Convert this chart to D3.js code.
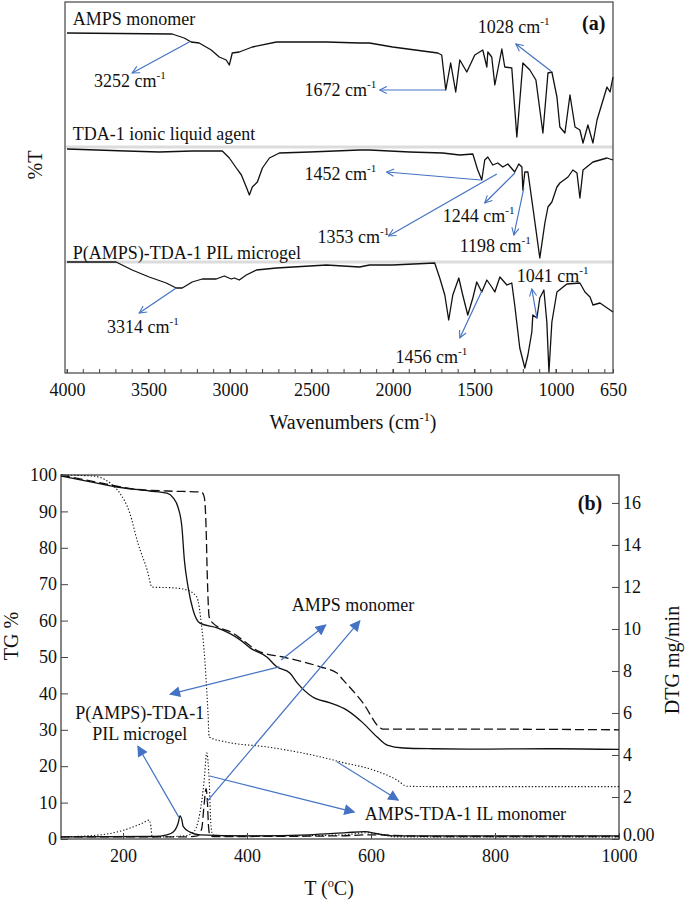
<!DOCTYPE html>
<html><head><meta charset="utf-8">
<script src="https://cdn.jsdelivr.net/npm/d3@7"></script>
<style>
body{margin:0;background:#fff}
svg, text{font-family:"Liberation Serif","Times New Roman",serif;fill:#111}
</style>
</head><body>
<svg id="c" width="685" height="900"></svg>
<script>
// ---------------- DATA: panel (a) FTIR (stacked transmittance, a.u.) ----------------
const ampsWn = [4000,3355,3281,3238,3189,3115,3066,3023,3004,2986,2943,2863,2715,2408,2205,2144,2002,1725,1701,1676,1646,1615,1590,1547,1498,1449,1424,1418,1394,1375,1332,1314,1271,1240,1203,1160,1123,1080,1049,1025,994,976,945,914,883,853,834,804,773,748,687,668,650];
const ampsT  = [340,339,335,331,330,323,316,313,308,320,321,326,331,331,330,330,326,320,318,283,310,281,313,301,318,323,306,321,316,288,324,306,305,236,310,303,293,240,300,301,276,246,240,278,246,243,230,248,230,253,286,281,296];
const tdaWn  = [4000,3637,3434,3232,3047,3004,2961,2930,2900,2881,2863,2832,2801,2758,2697,2512,2205,2144,1898,1695,1590,1510,1480,1455,1437,1418,1388,1357,1326,1295,1253,1228,1209,1203,1191,1172,1142,1099,1068,1049,1025,994,976,926,896,871,853,834,773,687,650];
const tdaT   = [224,222,221,222,222,215,205,198,186,178,186,191,205,215,220,221,223,223,221,220,218,219,203,193,213,216,208,210,206,209,201,209,206,183,201,201,166,115,150,166,171,186,190,196,203,200,175,203,211,215,213];
const pilWn  = [4000,3699,3600,3496,3391,3330,3293,3232,3170,3084,3035,2992,2973,2943,2900,2838,2715,2408,2205,2144,2002,1744,1713,1682,1658,1633,1596,1572,1541,1510,1486,1455,1424,1394,1375,1344,1301,1271,1253,1222,1191,1172,1148,1142,1117,1099,1074,1056,1043,1025,994,933,853,822,791,773,730,650];
const pilT   = [111,111,103,96,90,85,85,91,94,94,97,94,95,93,98,103,105,108,106,108,108,110,95,78,53,78,95,78,58,75,91,81,93,86,81,96,88,90,68,25,5,18,41,58,55,75,83,51,1,51,81,89,90,81,76,68,70,61];
const spectraNames = ["AMPS monomer","TDA-1 ionic liquid agent","P(AMPS)-TDA-1 PIL microgel"];
const spectraNameLevel = [348,233,114];
const separatorLevels = [226,111];
const wnTickLabels = [4000,3500,3000,2500,2000,1500,1000,650];
const wnMinorTicks = d3.range(4000,650,-100);
// peak annotations: label, text anchor (wn, T), arrow from (wn,T) to (wn,T)
const peakLabels = ["3252","1672","1028","1452","1353","1244","1198","3314","1456","1041"];
const peakTextWn = [3834,2543,1480,2543,2463,1695,1590,3754,1984,1240];
const peakTextT  = [286,277,340,193,130,151,121,40,10,91];
const peakFromWn = [3250,1676,1031,1461,1363,1252,1197,3330,1455,1117];
const peakFromT  = [331,283,302,193,199,200,185,85,82,55];
const peakToWn   = [3600,2082,1246,2039,2027,1437,1258,3557,1590,1148];
const peakToT    = [300,283,329,201,137,170,138,60,35,84];

// ---------------- DATA: panel (b) TG / DTG ----------------
const tgSolidT  = [100,152,190,243,271,281,289,295,299,305,313,324,352,389,405,432,448,469,481,506,534,561,587,610,626,652,700,776,900,1000];
const tgSolid   = [99.7,98,96.7,95.6,95,93.7,91,85.7,76.6,69.2,62.9,59.3,58,54.7,52.5,50,47.3,45.6,42.9,39,37.4,35.4,31.9,28,25.8,25,24.8,24.7,24.8,24.6];
const tgDashT   = [100,164,216,271,327,331,334,336,339,345,377,421,458,518,545,555,587,615,619,700,776,900,1000];
const tgDash    = [100,97.8,96.2,95.6,95.3,94,85.7,72,61,59.3,56.6,51.4,50,47.3,45.6,43.7,37.4,30.5,30.2,30.2,30.2,30.1,30];
const tgDotT    = [100,152,179,195,211,224,239,247,281,303,319,327,332,335,337,339,368,432,539,550,603,642,658,700,800,1000];
const tgDot     = [100,99.7,97.8,95,89.5,81.3,73.9,69.2,69,68.4,66.5,58.2,49.2,41,35,28,26.6,25.3,21.7,21.2,19,16.2,14.5,14.4,14.4,14.4];
const dtgDotT   = [100,164,190,216,232,242,245,247,260,300,313,324,331,335,339,342,345,360,450,560,590,610,640,700,1000];
const dtgDot    = [0.1,0.2,0.33,0.57,0.76,0.9,0.6,0.1,0.1,0.15,0.3,1.24,2.8,4.1,2.8,0.6,0.2,0.15,0.15,0.2,0.3,0.25,0.1,0.1,0.1];
const dtgSolidT = [100,250,271,281,289,292,295,297,308,324,400,500,560,590,610,640,1000];
const dtgSolid  = [0.1,0.12,0.2,0.33,0.76,1.1,0.9,0.6,0.33,0.2,0.15,0.2,0.3,0.35,0.25,0.15,0.15];
const dtgDashT  = [100,300,320,327,331,334,336,338,340,345,400,550,600,700,1000];
const dtgDash   = [0.1,0.1,0.15,0.5,1.7,2.4,1.85,0.57,0.2,0.12,0.12,0.15,0.2,0.12,0.12];
const tempTicks = [200,400,600,800,1000];
const tgTicks = d3.range(0,101,10);
const dtgTicks = d3.range(0,17,2);
// annotations (data coords: T, TG%)
const bLabels   = ["AMPS monomer","P(AMPS)-TDA-1","PIL microgel","AMPS-TDA-1 IL monomer"];
const bLabelT   = [571,227,227,590];
const bLabelTG  = [62.6,33,27.2,5.2];
const bArrowFromT  = [455,452,335,290,340,545];
const bArrowFromTG = [49.2,47.3,10.2,6,17.3,21.2];
const bArrowToT    = [527,276,582,224,573,644];
const bArrowToTG   = [58.8,39.8,59.9,25.5,7.4,10.7];

// ---------------- DRAW ----------------
const svg = d3.select("#c").attr("font-family","Liberation Serif");
const blue = "#4472C4";
const FS = 18;
const defs = svg.append("defs");
defs.append("marker").attr("id","openArrow").attr("viewBox","0 0 10 10")
  .attr("refX",9).attr("refY",5).attr("markerWidth",9).attr("markerHeight",9)
  .attr("markerUnits","userSpaceOnUse").attr("orient","auto")
  .append("path").attr("d","M1,1 L9,5 L1,9").attr("fill","none").attr("stroke",blue).attr("stroke-width",1.2);
defs.append("marker").attr("id","fillArrow").attr("viewBox","0 0 10 10")
  .attr("refX",9).attr("refY",5).attr("markerWidth",12).attr("markerHeight",11)
  .attr("markerUnits","userSpaceOnUse").attr("orient","auto")
  .append("path").attr("d","M0,0 L10,5 L0,10 Z").attr("fill",blue);

function supText(sel, base, sup, after, fs){
  sel.append("tspan").text(base);
  sel.append("tspan").attr("dy",-fs*0.42).attr("font-size",fs*0.62).text(sup);
  if(after) sel.append("tspan").attr("dy",fs*0.42).text(after);
}

// ===== Panel (a)
const xA = d3.scaleLinear().domain([4000,650]).range([67,613]);
const yA = d3.scaleLinear().domain([0,371]).range([373,2]);
const gA = svg.append("g");

separatorLevels.forEach(v=>{
  gA.append("line").attr("x1",xA(4000)-2).attr("x2",xA(650)).attr("y1",yA(v)).attr("y2",yA(v))
    .attr("stroke","#dcdcdc").attr("stroke-width",3);
});

gA.append("rect").attr("x",xA(4000)-2).attr("y",yA(371)).attr("width",xA(650)-xA(4000)+2)
  .attr("height",yA(0)-yA(371)).attr("fill","none").attr("stroke","#444").attr("stroke-width",1.2);

const lineA = d3.line().x(d=>xA(d[0])).y(d=>yA(d[1]));
[[ampsWn,ampsT],[tdaWn,tdaT],[pilWn,pilT]].forEach(([w,t])=>{
  gA.append("path").datum(d3.zip(w,t)).attr("d",lineA).attr("fill","none")
    .attr("stroke","#111").attr("stroke-width",1.3).attr("stroke-linejoin","round");
});

// axis
gA.selectAll(".minor").data(wnMinorTicks).join("line")
  .attr("x1",d=>xA(d)).attr("x2",d=>xA(d)).attr("y1",yA(0)).attr("y2",yA(0)-4)
  .attr("stroke","#444").attr("stroke-width",1);
const axA = gA.append("g").attr("transform",`translate(0,${yA(0)})`)
  .call(d3.axisBottom(xA).tickValues(wnTickLabels).tickSize(-4).tickPadding(10).tickFormat(d3.format("d")));
axA.attr("font-family","Liberation Serif");
axA.select(".domain").remove();
axA.selectAll("text").attr("font-size",FS).attr("fill","#111");
axA.selectAll("line").attr("stroke","#444");

gA.append("text").attr("x",353).attr("y",429).attr("text-anchor","middle").attr("font-size",20)
  .call(s=>supText(s,"Wavenumbers (cm","-1",")",20));
gA.append("text").attr("transform","translate(42,165) rotate(-90)").attr("text-anchor","middle")
  .attr("font-size",20).text("%T");

spectraNames.forEach((n,i)=>{
  gA.append("text").attr("x",xA(3965)).attr("y",yA(spectraNameLevel[i])).attr("font-size",FS).text(n);
});
gA.append("text").attr("x",xA(697)).attr("y",yA(343)).attr("text-anchor","end")
  .attr("font-size",20).attr("font-weight","bold").text("(a)");

peakLabels.forEach((p,i)=>{
  gA.append("line").attr("x1",xA(peakFromWn[i])).attr("y1",yA(peakFromT[i]))
    .attr("x2",xA(peakToWn[i])).attr("y2",yA(peakToT[i]))
    .attr("stroke",blue).attr("stroke-width",1.2).attr("marker-end","url(#openArrow)");
  gA.append("text").attr("x",xA(peakTextWn[i])).attr("y",yA(peakTextT[i])).attr("font-size",FS)
    .call(s=>supText(s,p+" cm","-1",null,FS));
});

// ===== Panel (b)
const xB = d3.scaleLinear().domain([100,1000]).range([61,619]);
const yL = d3.scaleLinear().domain([0,100]).range([839,475]);
const yR = d3.scaleLinear().domain([0,17.33]).range([839,475]);
const gB = svg.append("g");

gB.append("rect").attr("x",xB(100)).attr("y",yL(100)).attr("width",xB(1000)-xB(100))
  .attr("height",yL(0)-yL(100)).attr("fill","none").attr("stroke","#444").attr("stroke-width",1.3);

const styles = {solid:null, dash:"9,4", dot:"1.3,2"};
const lineL = d3.line().x(d=>xB(d[0])).y(d=>yL(d[1])).curve(d3.curveMonotoneX);
const lineR = d3.line().x(d=>xB(d[0])).y(d=>yR(d[1])).curve(d3.curveMonotoneX);
[[tgSolidT,tgSolid,"solid"],[tgDashT,tgDash,"dash"],[tgDotT,tgDot,"dot"]].forEach(([t,v,s])=>{
  gB.append("path").datum(d3.zip(t,v)).attr("d",lineL).attr("fill","none")
    .attr("stroke","#111").attr("stroke-width",s==="dot"?1.1:1.3).attr("stroke-dasharray",styles[s]);
});
[[dtgSolidT,dtgSolid,"solid"],[dtgDashT,dtgDash,"dash"],[dtgDotT,dtgDot,"dot"]].forEach(([t,v,s])=>{
  gB.append("path").datum(d3.zip(t,v)).attr("d",lineR).attr("fill","none")
    .attr("stroke","#111").attr("stroke-width",s==="dot"?1.1:1.3).attr("stroke-dasharray",styles[s]);
});

function styleAxis(g){
  g.attr("font-family","Liberation Serif");
  g.select(".domain").remove();
  g.selectAll("text").attr("font-size",FS).attr("fill","#111");
  g.selectAll("line").attr("stroke","#444");
}
gB.append("g").attr("transform",`translate(${xB(100)},0)`)
  .call(d3.axisLeft(yL).tickValues(tgTicks).tickSize(-7).tickPadding(4)).call(styleAxis);
const axR = gB.append("g").attr("transform",`translate(${xB(1000)},0)`)
  .call(d3.axisRight(yR).tickValues(dtgTicks).tickSize(-7).tickPadding(4)
  .tickFormat(d=>d===0?"0.00":d3.format("d")(d))).call(styleAxis);
axR.selectAll("text").filter(d=>d===0).attr("dy","0.1em");
gB.append("g").attr("transform",`translate(0,${yL(0)})`)
  .call(d3.axisBottom(xB).tickValues(tempTicks).tickSize(-6).tickPadding(10).tickFormat(d3.format("d"))).call(styleAxis);

gB.append("text").attr("x",329).attr("y",895).attr("text-anchor","middle").attr("font-size",20)
  .call(s=>supText(s,"T (","o","C)",20));
gB.append("text").attr("transform","translate(18,636) rotate(-90)").attr("text-anchor","middle")
  .attr("font-size",20).text("TG %");
gB.append("text").attr("transform","translate(679,660) rotate(-90)").attr("text-anchor","middle")
  .attr("font-size",20).text("DTG mg/min");
gB.append("text").attr("x",xB(973)).attr("y",yL(90.4)).attr("text-anchor","end")
  .attr("font-size",20).attr("font-weight","bold").text("(b)");

bArrowFromT.forEach((t,i)=>{
  gB.append("line").attr("x1",xB(t)).attr("y1",yL(bArrowFromTG[i]))
    .attr("x2",xB(bArrowToT[i])).attr("y2",yL(bArrowToTG[i]))
    .attr("stroke",blue).attr("stroke-width",1.2).attr("marker-end","url(#fillArrow)");
});
bLabels.forEach((l,i)=>{
  gB.append("text").attr("x",xB(bLabelT[i])).attr("y",yL(bLabelTG[i]))
    .attr("text-anchor",i===3?"start":"middle").attr("font-size",FS).text(l);
});
</script>
</body></html>
